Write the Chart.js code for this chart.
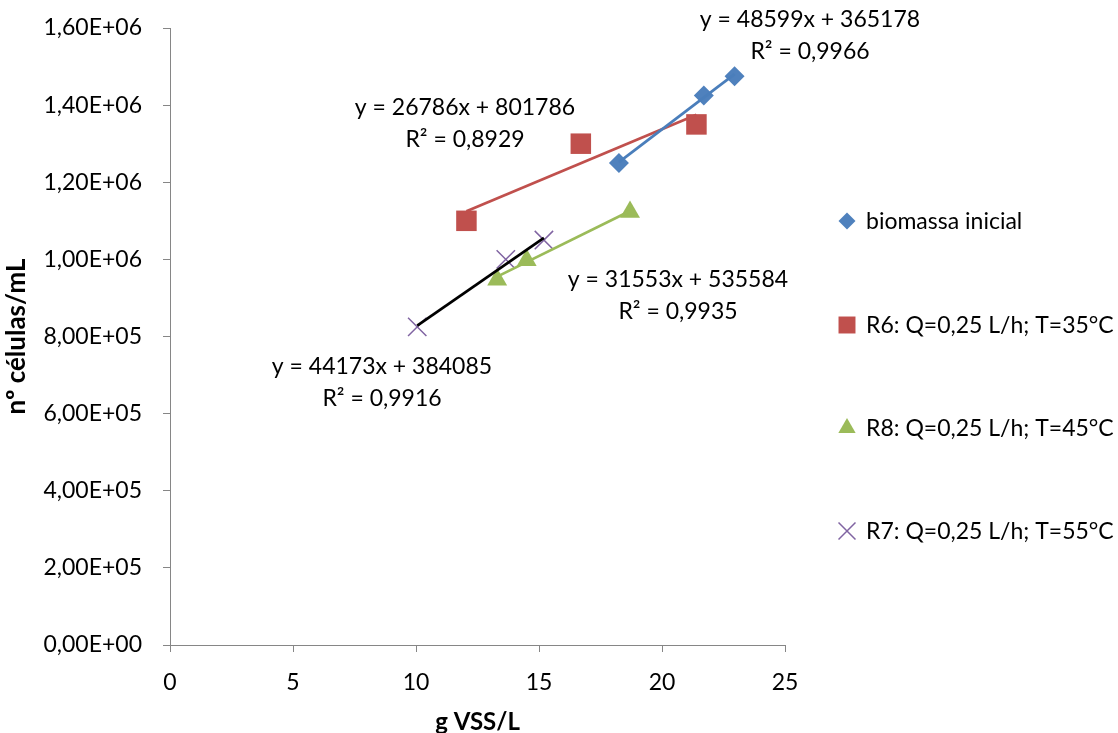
<!DOCTYPE html>
<html>
<head>
<meta charset="utf-8">
<script src="https://cdn.jsdelivr.net/npm/chart.js@4.4.1/dist/chart.umd.min.js"></script>
<style>
  html, body { margin: 0; padding: 0; background: #fff; }
  #wrap { width: 1118px; height: 733px; position: relative; }
</style>
</head>
<body>
<div id="wrap"><canvas id="c"></canvas></div>
<script>
// Series names (legend order)
const seriesNames = ['biomassa inicial', 'R6: Q=0,25 L/h; T=35°C', 'R8: Q=0,25 L/h; T=45°C', 'R7: Q=0,25 L/h; T=55°C'];

// Measurements: g VSS/L (x) vs nº células/mL (y)
const biomassaX = [18.25, 21.7, 22.95];
const biomassaY = [1250000, 1425000, 1475000];
const r6X = [12.05, 16.7, 21.4];
const r6Y = [1100000, 1300000, 1350000];
const r8X = [13.3, 14.5, 18.7];
const r8Y = [947000, 998000, 1123000];
const r7X = [10.05, 13.65, 15.2];
const r7Y = [825000, 1000000, 1050000];

// Linear trendlines (y = a·x + b) and their R²
const trendSlopes = [48599, 26786, 31553, 44173];
const trendIntercepts = [365178, 801786, 535584, 384085];
const trendR2 = ['0,9966', '0,8929', '0,9935', '0,9916'];

// Axis ticks
const xTicks = [0, 5, 10, 15, 20, 25];
const yTicks = [0, 200000, 400000, 600000, 800000, 1000000, 1200000, 1400000, 1600000];

// Styling
const FONT = 'Lato';
const markerColors = ['#4F81BD', '#C0504D', '#9BBB59', '#8064A2'];
const trendColors = ['#4A7EBB', '#C0504D', '#9BBB59', '#000000'];
const markerStyles = ['rectRot', 'rect', 'triangle', 'crossRot'];
const markerRadius = [10, 14.5, 11.5, 13];
const legendRadius = [8.5, 12, 10, 12];
// equation label centres (px): first line; R² line sits below
const eqLabelPos = [[810, 20], [465, 108], [678, 280], [382, 367]];
const legendPos = { markerX: 847, textX: 866, rows: [221, 325, 428, 531] };

const xs = [biomassaX, r6X, r8X, r7X];
const ys = [biomassaY, r6Y, r8Y, r7Y];

function pts(xArr, yArr) { return xArr.map((x, i) => ({ x: x, y: yArr[i] })); }
function trendPts(i) {
  const lo = Math.min(...xs[i]), hi = Math.max(...xs[i]);
  return [lo, hi].map(x => ({ x: x, y: trendSlopes[i] * x + trendIntercepts[i] }));
}

function sciLabel(v) {
  const [m, e] = Number(v).toExponential(2).split('e');
  const sign = e[0] === '-' ? '-' : '+';
  const digits = e.replace(/[+-]/, '').padStart(2, '0');
  return m.replace('.', ',') + 'E' + sign + digits;
}

const datasets = [];
for (let i = 0; i < 4; i++) {
  datasets.push({
    label: seriesNames[i],
    data: pts(xs[i], ys[i]),
    showLine: false,
    pointStyle: markerStyles[i],
    pointRadius: markerRadius[i],
    pointHoverRadius: markerRadius[i],
    backgroundColor: markerColors[i],
    borderColor: markerColors[i],
    pointBorderWidth: i === 3 ? 1.5 : 0,
    order: 2
  });
}
for (let i = 0; i < 4; i++) {
  datasets.push({
    label: 'trend ' + i,
    data: trendPts(i),
    showLine: true,
    pointRadius: 0,
    borderColor: trendColors[i],
    borderWidth: 2.75,
    order: 1
  });
}

const annotations = {
  id: 'annotations',
  afterDraw(chart) {
    const ctx = chart.ctx;
    ctx.save();
    ctx.fillStyle = '#000';
    ctx.textAlign = 'center';
    ctx.textBaseline = 'middle';
    ctx.font = '23px ' + FONT;
    for (let i = 0; i < 4; i++) {
      const [cx, cy] = eqLabelPos[i];
      ctx.fillText('y = ' + trendSlopes[i] + 'x + ' + trendIntercepts[i], cx, cy);
      ctx.fillText('R² = ' + trendR2[i], cx, cy + 32);
    }
    // legend
    ctx.textAlign = 'left';
    for (let i = 0; i < 4; i++) {
      const y = legendPos.rows[i];
      ctx.fillStyle = markerColors[i];
      ctx.strokeStyle = markerColors[i];
      ctx.lineWidth = 1.5;
      Chart.helpers.drawPoint(ctx, {
        pointStyle: markerStyles[i],
        radius: legendRadius[i],
        rotation: 0,
        borderWidth: i === 3 ? 1.5 : 0
      }, legendPos.markerX, y);
      ctx.fillStyle = '#000';
      ctx.fillText(seriesNames[i], legendPos.textX, y + 1);
    }
    ctx.restore();
  }
};

new Chart(document.getElementById('c'), {
  type: 'scatter',
  data: { datasets: datasets },
  options: {
    responsive: true,
    maintainAspectRatio: false,
    animation: false,
    layout: { padding: { left: 0, top: 28, right: 333, bottom: 0 } },
    plugins: { legend: { display: false }, tooltip: { enabled: false } },
    scales: {
      x: {
        type: 'linear',
        min: 0, max: 25,
        afterBuildTicks: s => { s.ticks = xTicks.map(v => ({ value: v })); },
        afterFit: s => { s.height = 88; },
        ticks: { color: '#000', font: { family: FONT, size: 23 }, padding: 17 },
        grid: { drawOnChartArea: false, drawTicks: true, tickLength: 7, color: '#868686' },
        border: { color: '#868686', width: 1 },
        title: { display: true, text: 'g VSS/L', color: '#000', font: { family: FONT, size: 24, weight: 'bold', lineHeight: 0.9 }, padding: { top: 0, bottom: 0 } }
      },
      y: {
        type: 'linear',
        min: 0, max: 1600000,
        afterBuildTicks: s => { s.ticks = yTicks.map(v => ({ value: v })); },
        afterFit: s => { s.width = 170; s.paddingTop = 0; s.paddingBottom = 0; },
        ticks: { color: '#000', font: { family: FONT, size: 23 }, padding: 21, callback: v => sciLabel(v) },
        grid: { drawOnChartArea: false, drawTicks: true, tickLength: 7, color: '#868686' },
        border: { color: '#868686', width: 1 },
        title: { display: true, text: 'nº células/mL', color: '#000', font: { family: FONT, size: 26, weight: 'bold', lineHeight: 1 }, padding: { top: 4, bottom: 0 } }
      }
    }
  },
  plugins: [annotations]
});
</script>
</body>
</html>
